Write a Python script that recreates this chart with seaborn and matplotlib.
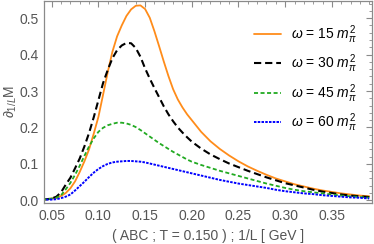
import numpy as np
import pandas as pd
import matplotlib
matplotlib.use("Agg")
import matplotlib.pyplot as plt
import seaborn as sns
from matplotlib.ticker import MultipleLocator

# ---------------- data ----------------
inv_L = [0.040, 0.045, 0.050, 0.055, 0.060, 0.065, 0.070, 0.075, 0.080, 0.085,
         0.090, 0.095, 0.100, 0.105, 0.110, 0.115, 0.120, 0.125, 0.130, 0.135,
         0.140, 0.145, 0.150, 0.155, 0.160, 0.165, 0.170, 0.175, 0.180, 0.185,
         0.190, 0.195, 0.200, 0.210, 0.220, 0.230, 0.240, 0.250, 0.260, 0.270,
         0.280, 0.290, 0.300, 0.310, 0.320, 0.330, 0.340, 0.350, 0.360, 0.370,
         0.380, 0.390]

w15 = [0.002, 0.003, 0.005, 0.007, 0.012, 0.020, 0.033, 0.052, 0.078, 0.107,
       0.140, 0.183, 0.229, 0.290, 0.352, 0.408, 0.450, 0.480, 0.506, 0.524,
       0.534, 0.535, 0.525, 0.501, 0.464, 0.423, 0.381, 0.341, 0.305, 0.277,
       0.255, 0.236, 0.220, 0.188, 0.162, 0.141, 0.123, 0.107, 0.093, 0.081,
       0.070, 0.060, 0.052, 0.044, 0.038, 0.032, 0.027, 0.023, 0.019, 0.016,
       0.013, 0.011]

w30 = [0.002, 0.003, 0.005, 0.010, 0.022, 0.043, 0.062, 0.088, 0.115, 0.148,
       0.185, 0.228, 0.275, 0.322, 0.358, 0.390, 0.412, 0.425, 0.432, 0.431,
       0.418, 0.394, 0.362, 0.334, 0.308, 0.283, 0.258, 0.236, 0.217, 0.200,
       0.186, 0.173, 0.161, 0.142, 0.126, 0.113, 0.101, 0.091, 0.081, 0.072,
       0.063, 0.055, 0.047, 0.041, 0.035, 0.029, 0.024, 0.020, 0.016, 0.013,
       0.011, 0.009]

w45 = [0.002, 0.003, 0.005, 0.007, 0.014, 0.030, 0.048, 0.070, 0.095, 0.122,
       0.148, 0.170, 0.188, 0.199, 0.206, 0.210, 0.213, 0.213, 0.211, 0.207,
       0.201, 0.193, 0.184, 0.175, 0.166, 0.157, 0.149, 0.141, 0.133, 0.126,
       0.119, 0.112, 0.106, 0.097, 0.089, 0.081, 0.074, 0.067, 0.060, 0.053,
       0.046, 0.040, 0.034, 0.029, 0.025, 0.022, 0.019, 0.016, 0.013, 0.011,
       0.009, 0.007]

w60 = [0.001, 0.002, 0.002, 0.003, 0.006, 0.010, 0.016, 0.027, 0.039, 0.051,
       0.064, 0.076, 0.086, 0.094, 0.100, 0.104, 0.106, 0.107, 0.108, 0.108,
       0.107, 0.106, 0.104, 0.101, 0.098, 0.095, 0.092, 0.089, 0.086, 0.083,
       0.080, 0.077, 0.074, 0.068, 0.062, 0.056, 0.051, 0.046, 0.042, 0.038,
       0.034, 0.029, 0.025, 0.022, 0.019, 0.017, 0.014, 0.012, 0.010, 0.008,
       0.007, 0.005]

labels = [r"$\omega$ = 15 $m_{\pi}^{2}$", r"$\omega$ = 30 $m_{\pi}^{2}$",
          r"$\omega$ = 45 $m_{\pi}^{2}$", r"$\omega$ = 60 $m_{\pi}^{2}$"]
x_ticks = [0.05, 0.10, 0.15, 0.20, 0.25, 0.30, 0.35]
y_ticks = [0.0, 0.1, 0.2, 0.3, 0.4, 0.5]

# ---------------- style ----------------
sns.set_theme(style="white")
plt.rcParams["font.family"] = ["Liberation Sans", "DejaVu Sans"]
plt.rcParams["mathtext.fontset"] = "custom"
plt.rcParams["mathtext.rm"] = "Liberation Sans"
plt.rcParams["mathtext.it"] = "Liberation Sans:italic"
plt.rcParams["mathtext.bf"] = "Liberation Sans:bold"
plt.rcParams["lines.scale_dashes"] = False

fig = plt.figure(figsize=(3.74, 2.44), dpi=100)
ax = fig.add_axes([43.7 / 374, 1 - 202.5 / 244, (372 - 43.7) / 374, (202.5 - 0.8) / 244])

series = [w15, w30, w45, w60]
colors = ["#ff8c1a", "#000000", "#22aa22", "#0000ff"]
styles = ["-", (0, (5.2, 2.8)), (0, (2.9, 1.8)), (0, (1.8, 0.9))]
widths = [1.3, 1.5, 1.3, 1.4]

for ys, lab, c, ls, lw in zip(series, labels, colors, styles, widths):
    df = pd.DataFrame({"x": inv_L, "y": ys})
    sns.lineplot(data=df, x="x", y="y", ax=ax, color=c, linestyle=ls,
                 linewidth=lw, label=lab, sort=True)

ax.set_xlim(0.0414, 0.393)
ax.set_ylim(-0.006, 0.5476)

ax.set_xticks(x_ticks)
ax.set_xticklabels([f"{v:.2f}" for v in x_ticks])
ax.set_yticks(y_ticks)
ax.set_yticklabels([f"{v:.1f}" for v in y_ticks])
ax.xaxis.set_minor_locator(MultipleLocator(0.01))
ax.yaxis.set_minor_locator(MultipleLocator(0.02))

frame_c = "#8a8a8a"
label_c = "#555555"
for s in ax.spines.values():
    s.set_color(frame_c)
    s.set_linewidth(0.9)
ax.tick_params(which="both", direction="in", top=True, right=True,
               color=frame_c, labelcolor=label_c, labelsize=10)
ax.tick_params(which="major", length=4, width=0.8)
ax.tick_params(which="minor", length=2, width=0.6)
ax.tick_params(axis="x", pad=4.5)
ax.tick_params(axis="y", pad=3.5)

ax.set_xlabel("( ABC ; T = 0.150 ) ; 1/L [ GeV ]", fontsize=10, color=label_c)
ax.set_ylabel(r"$\partial_{1/L}$M", fontsize=10, color=label_c)
ax.xaxis.set_label_coords(0.5, -0.13)
ax.yaxis.set_label_coords(-0.075, 0.5)

leg = ax.legend(loc="upper left", bbox_to_anchor=(0.642, 0.89), frameon=False,
                fontsize=10, handlelength=1.9, handletextpad=0.7,
                labelspacing=0.5, borderpad=0, borderaxespad=0)
for t in leg.get_texts():
    t.set_color("black")

fig.savefig("out.png", dpi=100)
